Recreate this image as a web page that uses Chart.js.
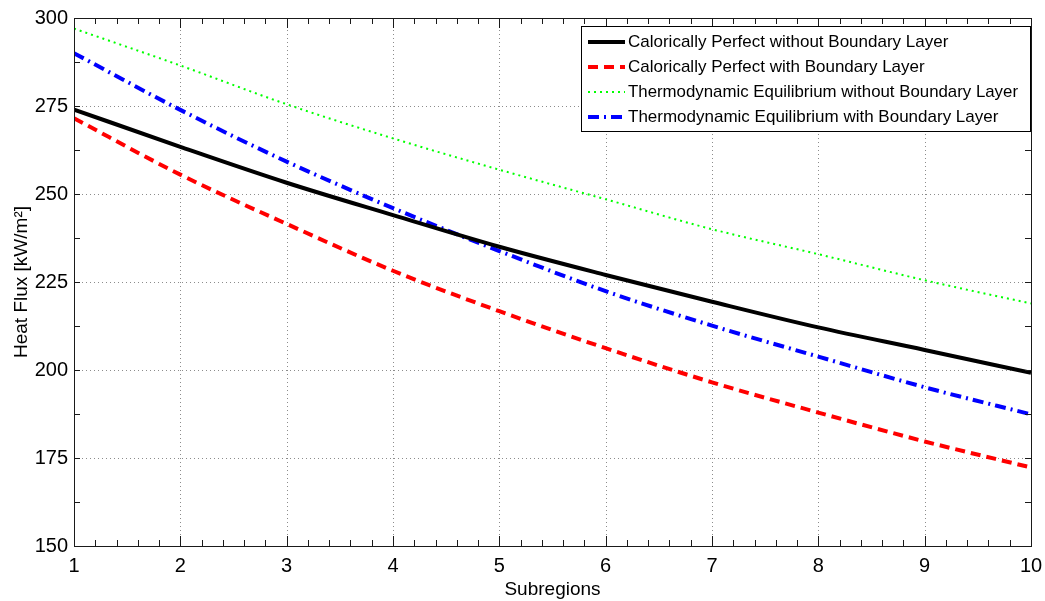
<!DOCTYPE html>
<html>
<head>
<meta charset="utf-8">
<script src="https://cdn.jsdelivr.net/npm/chart.js@4.4.1/dist/chart.umd.min.js"></script>
<style>
  html, body { margin: 0; padding: 0; background: #fff; }
  #wrap { width: 1045px; height: 601px; }
</style>
</head>
<body>
<div id="wrap"><canvas id="heat"></canvas></div>
<script>
const subregions = [1, 2, 3, 4, 5, 6, 7, 8, 9, 10];
const cpNoBL = [274, 263.4, 253.2, 244, 235, 227, 219.4, 212.1, 205.7, 199.2];
const cpBL = [271.5, 255.5, 241.5, 228.2, 216.7, 206.2, 196.5, 187.9, 179.7, 172.3];
const teNoBL = [297, 286.5, 275.5, 265.8, 256.9, 248.5, 240, 232.9, 225.5, 218.9];
const teBL = [290, 273.9, 259.2, 246, 233.8, 222.4, 212.6, 203.8, 195.1, 187.4];
const seriesNames = [
  'Calorically Perfect without Boundary Layer',
  'Calorically Perfect with Boundary Layer',
  'Thermodynamic Equilibrium without Boundary Layer',
  'Thermodynamic Equilibrium with Boundary Layer'
];

const FONT = '"Liberation Sans", Arial, sans-serif';

const pts = (ys) => subregions.map((x, i) => ({ x, y: ys[i] }));

// dotted grid, boxed axes, inward ticks (MATLAB style)
const frame = {
  id: 'frame',
  beforeDatasetsDraw(chart) {
    const { ctx, chartArea: a, scales: { x, y } } = chart;
    ctx.save();
    ctx.strokeStyle = '#8c8c8c';
    ctx.lineWidth = 1;
    ctx.setLineDash([1, 3]);
    for (let v = 2; v <= 9; v++) {
      const px = Math.round(x.getPixelForValue(v)) + 0.5;
      ctx.beginPath(); ctx.moveTo(px, a.top); ctx.lineTo(px, a.bottom); ctx.stroke();
    }
    for (let v = 175; v <= 275; v += 25) {
      const py = Math.round(y.getPixelForValue(v)) + 0.5;
      ctx.beginPath(); ctx.moveTo(a.left, py); ctx.lineTo(a.right, py); ctx.stroke();
    }
    ctx.restore();
  },
  afterDatasetsDraw(chart) {
    const { ctx, chartArea: a, scales: { x, y } } = chart;
    ctx.save();
    ctx.strokeStyle = '#1a1a1a';
    ctx.lineWidth = 1;
    ctx.beginPath();
    for (let k = 0; k <= 45; k++) {
      const v = 1 + k * 0.2;
      const px = Math.round(x.getPixelForValue(v)) + 0.5;
      const len = k % 5 === 0 ? 10 : 6;
      ctx.moveTo(px, a.bottom); ctx.lineTo(px, a.bottom - len);
      ctx.moveTo(px, a.top); ctx.lineTo(px, a.top + len);
    }
    for (let v = 150; v <= 300; v += 12.5) {
      const py = Math.round(y.getPixelForValue(v)) + 0.5;
      ctx.moveTo(a.left, py); ctx.lineTo(a.left + 6, py);
      ctx.moveTo(a.right, py); ctx.lineTo(a.right - 6, py);
    }
    ctx.stroke();
    ctx.strokeRect(Math.round(a.left) + 0.5, Math.round(a.top) + 0.5,
      Math.round(a.right - a.left), Math.round(a.bottom - a.top));
    ctx.restore();
  }
};

// boxed legend in the upper right corner
const boxLegend = {
  id: 'boxLegend',
  afterDraw(chart) {
    const { ctx, chartArea: a } = chart;
    const left = 581, top = 26, right = a.right - 1, bottom = 131;
    ctx.save();
    ctx.fillStyle = '#fff';
    ctx.fillRect(left, top, right - left, bottom - top);
    ctx.strokeStyle = '#000';
    ctx.lineWidth = 1;
    ctx.setLineDash([]);
    ctx.strokeRect(left + 0.5, top + 0.5, right - left, bottom - top);
    ctx.font = '17px ' + FONT;
    ctx.textBaseline = 'middle';
    chart.data.datasets.forEach((ds, i) => {
      const cy = 42 + i * 25;
      ctx.strokeStyle = ds.borderColor;
      ctx.lineWidth = ds.borderWidth;
      ctx.setLineDash(ds.borderDash || []);
      ctx.beginPath(); ctx.moveTo(588, cy); ctx.lineTo(625, cy); ctx.stroke();
      ctx.fillStyle = '#000';
      ctx.fillText(ds.label, 628, cy, 390);
    });
    ctx.restore();
  }
};

new Chart(document.getElementById('heat'), {
  type: 'line',
  data: {
    datasets: [
      { label: seriesNames[0], data: pts(cpNoBL), borderColor: '#000000', borderWidth: 4 },
      { label: seriesNames[1], data: pts(cpBL), borderColor: '#ff0000', borderWidth: 4, borderDash: [10, 6] },
      { label: seriesNames[2], data: pts(teNoBL), borderColor: '#00ff00', borderWidth: 2, borderDash: [2, 4] },
      { label: seriesNames[3], data: pts(teBL), borderColor: '#0000ff', borderWidth: 4, borderDash: [11, 5, 2, 5] }
    ]
  },
  options: {
    responsive: true,
    maintainAspectRatio: false,
    animation: false,
    events: [],
    layout: { padding: { top: 18, right: 14, left: 0, bottom: 0 } },
    elements: {
      point: { radius: 0 },
      line: { cubicInterpolationMode: 'monotone', fill: false }
    },
    plugins: {
      legend: { display: false },
      tooltip: { enabled: false }
    },
    scales: {
      x: {
        type: 'linear',
        min: 1,
        max: 10,
        afterFit: (s) => { s.height = 55; s.paddingLeft = 0; s.paddingRight = 0; },
        grid: { display: false, drawTicks: false },
        border: { display: false },
        ticks: {
          stepSize: 1,
          padding: 8,
          color: '#000',
          font: { family: FONT, size: 20 }
        },
        title: {
          display: true,
          text: 'Subregions',
          color: '#000',
          padding: { top: 2, bottom: 0 },
          font: { family: FONT, size: 19 }
        }
      },
      y: {
        min: 150,
        max: 300,
        afterFit: (s) => { s.width = 74; s.paddingTop = 0; s.paddingBottom = 0; },
        grid: { display: false, drawTicks: false },
        border: { display: false },
        ticks: {
          stepSize: 25,
          padding: 6,
          color: '#000',
          font: { family: FONT, size: 20 }
        },
        title: {
          display: true,
          text: 'Heat Flux [kW/m²]',
          color: '#000',
          padding: { top: 10, bottom: 2 },
          font: { family: FONT, size: 19 }
        }
      }
    }
  },
  plugins: [frame, boxLegend]
});
</script>
</body>
</html>
